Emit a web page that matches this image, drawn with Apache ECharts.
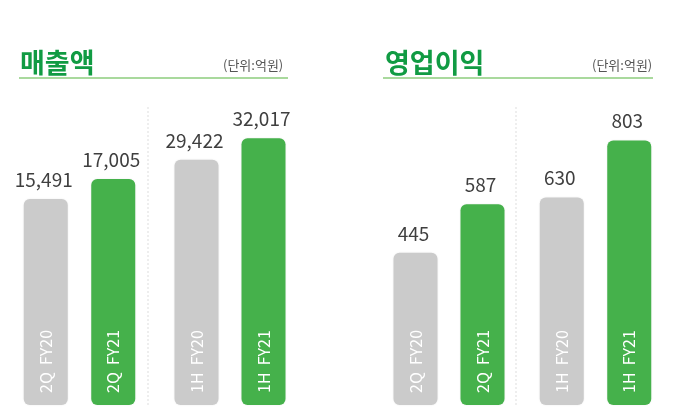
<!DOCTYPE html>
<html>
<head>
<meta charset="utf-8">
<script src="https://cdn.jsdelivr.net/npm/echarts@6/dist/echarts.min.js"></script>
<style>
  html, body { margin: 0; padding: 0; background: #fff; }
  #chart { width: 673px; height: 416px; }
</style>
</head>
<body>
<div id="chart"></div>
<script>
// 데이터
var panelTitles = ['매출액', '영업이익'];
var unitText = '(단위:억원)';
var categories2Q = ['2Q  FY20', '2Q  FY21'];
var categories1H = ['1H  FY20', '1H  FY21'];
var sales2Q = [15491, 17005];
var sales1H = [29422, 32017];
var profit2Q = [445, 587];
var profit1H = [630, 803];
// 그룹별 축 최대값 (원본은 그룹마다 스케일이 다름)
var axisMax = [22940, 36600, 892, 926];

var gray = '#cbcbcb';
var green = '#45b14b';
var font = '"Noto Sans CJK KR", "Noto Sans", sans-serif';

var myChart = echarts.init(document.getElementById('chart'));

var groups = [
    { cats: categories2Q, data: sales2Q, left: 12, width: 135 },
    { cats: categories1H, data: sales1H, left: 163, width: 134 },
    { cats: categories2Q, data: profit2Q, left: 382, width: 134 },
    { cats: categories1H, data: profit1H, left: 528, width: 135 }
];

var grid = [], xAxis = [], yAxis = [], series = [];
groups.forEach(function (g, i) {
    grid.push({ left: g.left, width: g.width, top: 100, bottom: 11 });
    xAxis.push({
        type: 'category', gridIndex: i, data: g.cats,
        axisLine: { show: false }, axisTick: { show: false }, axisLabel: { show: false }
    });
    yAxis.push({
        type: 'value', gridIndex: i, min: 0, max: axisMax[i],
        show: false, splitLine: { show: false }
    });
    // 막대 + 값 라벨
    series.push({
        type: 'bar', xAxisIndex: i, yAxisIndex: i, data: g.data,
        barWidth: 44, barGap: '-100%',
        itemStyle: {
            borderRadius: 6,
            color: function (p) { return p.dataIndex === 0 ? gray : green; },
            shadowBlur: 2,
            shadowColor: 'rgba(0,0,0,0.08)'
        },
        label: {
            show: true, position: 'top', distance: 10,
            fontFamily: font, fontSize: 19, color: '#3f3f3f',
            offset: [-2, 0],
            formatter: function (p) { return p.value.toLocaleString('en-US'); }
        }
    });
    // 막대 안쪽 카테고리 라벨
    series.push({
        type: 'bar', xAxisIndex: i, yAxisIndex: i, data: g.data,
        barWidth: 44, barGap: '-100%', silent: true,
        itemStyle: { color: 'rgba(0,0,0,0)' },
        label: {
            show: true, position: 'insideBottom', rotate: 90,
            align: 'left', verticalAlign: 'middle', distance: 12,
            fontFamily: font, fontSize: 16,
            color: '#fff',
            formatter: function (p) { return p.name; }
        }
    });
});

var option = {
    animation: false,
    title: [
        { text: panelTitles[0], left: 15, top: 44,
          textStyle: { fontFamily: font, fontSize: 27, fontWeight: 'bold', color: '#119b43' } },
        { text: unitText, left: 218, top: 54,
          textStyle: { fontFamily: font, fontSize: 13, fontWeight: 'normal', color: '#555' } },
        { text: panelTitles[1], left: 380, top: 44,
          textStyle: { fontFamily: font, fontSize: 27, fontWeight: 'bold', color: '#119b43' } },
        { text: unitText, left: 587, top: 54,
          textStyle: { fontFamily: font, fontSize: 13, fontWeight: 'normal', color: '#555' } }
    ],
    graphic: [
        { type: 'line', shape: { x1: 19, y1: 78, x2: 288, y2: 78 }, style: { stroke: '#8dcd7c', lineWidth: 1.5 } },
        { type: 'line', shape: { x1: 383, y1: 78, x2: 653, y2: 78 }, style: { stroke: '#8dcd7c', lineWidth: 1.5 } },
        { type: 'line', shape: { x1: 148, y1: 107, x2: 148, y2: 405 }, style: { stroke: '#dddddd', lineWidth: 1, lineDash: [2, 2] } },
        { type: 'line', shape: { x1: 516, y1: 107, x2: 516, y2: 405 }, style: { stroke: '#dddddd', lineWidth: 1, lineDash: [2, 2] } }
    ],
    grid: grid,
    xAxis: xAxis,
    yAxis: yAxis,
    series: series
};

myChart.setOption(option);
</script>
</body>
</html>
